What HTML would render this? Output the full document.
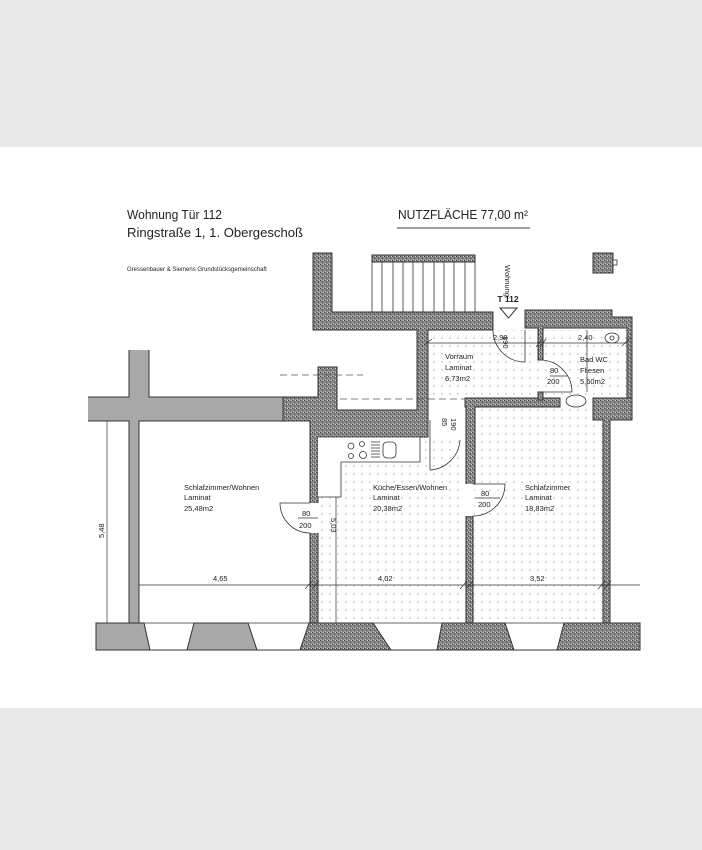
<!DOCTYPE html>
<html><head><meta charset="utf-8"><style>
html,body{margin:0;padding:0;background:#e8e8e8}
svg{display:block}
text{font-family:"Liberation Sans",sans-serif;fill:#222}
</style></head><body>
<svg width="702" height="850" viewBox="0 0 702 850" xmlns="http://www.w3.org/2000/svg">
<defs>
<pattern id="dots" width="8" height="8" patternUnits="userSpaceOnUse"><circle cx="2" cy="2" r="0.7" fill="#aaa"/></pattern>
<pattern id="tex" width="4" height="4" patternUnits="userSpaceOnUse"><rect width="4" height="4" fill="#8a8a8a"/><rect x="0" y="0" width="1" height="1" fill="#444"/><rect x="2" y="2" width="1" height="1" fill="#555"/><rect x="3" y="0" width="1" height="1" fill="#ccc"/><rect x="1" y="3" width="1" height="1" fill="#bbb"/><rect x="2" y="1" width="1" height="1" fill="#666"/></pattern>
</defs>
<rect x="0" y="0" width="702" height="850" fill="#e8e8e8"/>
<rect x="0" y="147" width="702" height="561" fill="#fff"/>

<!-- headings -->
<text x="127" y="219" font-size="12.5" textLength="95" lengthAdjust="spacingAndGlyphs">Wohnung Tür 112</text>
<text x="127" y="237" font-size="12.5" textLength="176" lengthAdjust="spacingAndGlyphs">Ringstraße 1, 1. Obergeschoß</text>
<text x="127" y="271" font-size="6">Gressenbauer &amp; Siemens Grundstücksgemeinschaft</text>
<text x="398" y="219" font-size="12.5" textLength="130" lengthAdjust="spacingAndGlyphs">NUTZFLÄCHE  77,00 m²</text>
<line x1="397" y1="228" x2="530" y2="228" stroke="#666" stroke-width="1.2"/>

<!-- dotted floors -->
<rect x="428" y="330" width="199" height="70" fill="url(#dots)"/>
<rect x="318" y="437" width="148" height="186" fill="url(#dots)"/>
<rect x="473" y="407" width="130" height="216" fill="url(#dots)"/>

<!-- gray walls left -->
<rect x="129" y="350" width="20" height="47" fill="#a8a8a8"/>
<rect x="88" y="397" width="200" height="24" fill="#a8a8a8"/>
<rect x="129" y="421" width="10" height="202" fill="#a8a8a8"/>
<path d="M129 350V397H88M149 350V397H288M88 421H129V623M139 623V421H310" fill="none" stroke="#333" stroke-width="1"/>

<!-- textured walls -->
<g fill="url(#tex)" stroke="#333" stroke-width="1">
<path d="M313 253H332V312H493V330H428V437H337V437H318V623H310V421H283V397H318V367H337V410H417V330H313Z"/>
<path d="M525 310H612V317H632V400H627V328H543V360H538V328H525Z"/>
<path d="M465 398H560V407H475V484H473V623H466V407H465Z"/>
<path d="M466 516H473V623H466Z"/>
<path d="M593 398H632V420H610V623H603V420H593Z"/>
<path d="M593 253H613V273H593Z"/>
<rect x="372" y="255" width="103" height="7"/>
<path d="M538 392H543V400H538Z"/>
</g>
<rect x="613" y="260" width="4" height="5" fill="#fff" stroke="#333" stroke-width="0.8"/>
<!-- door gaps -->
<rect x="309" y="503" width="10" height="30" fill="#fff"/>
<rect x="465" y="484" width="9" height="32" fill="#fff"/>

<!-- stairs -->
<g stroke="#333" stroke-width="0.8">
<line x1="372" y1="262" x2="372" y2="312"/><line x1="382" y1="262" x2="382" y2="312"/><line x1="393" y1="262" x2="393" y2="312"/><line x1="403" y1="262" x2="403" y2="312"/><line x1="413" y1="262" x2="413" y2="312"/><line x1="423" y1="262" x2="423" y2="312"/><line x1="434" y1="262" x2="434" y2="312"/><line x1="444" y1="262" x2="444" y2="312"/><line x1="454" y1="262" x2="454" y2="312"/><line x1="465" y1="262" x2="465" y2="312"/><line x1="475" y1="262" x2="475" y2="312"/>
</g>

<!-- entry -->
<text x="508" y="302" font-size="8.5" font-weight="bold" text-anchor="middle">T 112</text>
<text transform="translate(505,265) rotate(90)" font-size="7.5">Wohnung</text>
<path d="M500 308H517L508.5 318Z" fill="#fff" stroke="#333" stroke-width="1"/>
<path d="M525 330V362A32 32 0 0 1 493 330" fill="none" stroke="#333" stroke-width="0.8"/>

<!-- dimension lines -->
<g stroke="#333" stroke-width="0.7" fill="none">
<line x1="428" y1="343" x2="627" y2="343"/>
<line x1="107" y1="421" x2="107" y2="623"/>
<line x1="139" y1="585" x2="640" y2="585"/>
<line x1="336" y1="437" x2="336" y2="623"/>
<line x1="587" y1="330" x2="587" y2="392"/>
<path d="M424 345l8-6M536 347l6-8M540 347l6-8M622 346l8-8M305 589l7-8M312 589l7-8M460 589l7-8M466 589l7-8M598 589l7-8M604 589l7-8"/>
</g>
<g stroke="#555" stroke-width="0.8" stroke-dasharray="7,4">
<line x1="280" y1="375" x2="363" y2="375"/>
<line x1="340" y1="399" x2="465" y2="399"/>
</g>

<!-- doors -->
<g stroke="#333" stroke-width="0.8" fill="none">
<path d="M310 503H280A30 30 0 0 0 310 533"/>
<path d="M473 484H505A32 32 0 0 1 473 516"/>
<path d="M430 420V470A32 32 0 0 0 460 440"/>
<path d="M540 360A32 32 0 0 1 572 392H540"/>
<line x1="298" y1="518" x2="318" y2="518"/>
<line x1="475" y1="498" x2="500" y2="498"/>
<line x1="550" y1="376" x2="568" y2="376"/>
</g>

<!-- kitchen counter -->
<path d="M318 437H420V462H341V497H318" fill="#fff" stroke="#333" stroke-width="0.8"/>
<g fill="none" stroke="#333" stroke-width="0.8">
<circle cx="351" cy="446" r="3"/><circle cx="362" cy="444" r="2.5"/><circle cx="351" cy="456" r="2.5"/><circle cx="363" cy="455" r="3.5"/>
<path d="M371 442h9M371 445h9M371 448h9M371 451h9M371 454h9M371 457h9"/>
<rect x="383" y="442" width="13" height="16" rx="4"/>
<ellipse cx="612" cy="338" rx="7" ry="5"/><circle cx="612" cy="338" r="2"/>
<ellipse cx="576" cy="401" rx="10" ry="6"/>
</g>

<!-- bottom -->
<g stroke="#333" stroke-width="1">
<path d="M96 623H144L150 650H96Z" fill="#a8a8a8"/>
<path d="M194 623H248L257 650H187Z" fill="#a8a8a8"/>
<path d="M309 623H373L391 650H300Z" fill="url(#tex)"/>
<path d="M442 623H505L514 650H437Z" fill="url(#tex)"/>
<path d="M564 623H640V650H557Z" fill="url(#tex)"/>
<line x1="96" y1="650" x2="640" y2="650"/>
<line x1="144" y1="623" x2="640" y2="623" stroke-width="0.7"/>
</g>

<!-- labels -->
<g font-size="7.5">
<text x="184" y="490">Schlafzimmer/Wohnen</text><text x="184" y="500">Laminat</text><text x="184" y="511">25,48m2</text>
<text x="373" y="490">Küche/Essen/Wohnen</text><text x="373" y="500">Laminat</text><text x="373" y="511">20,38m2</text>
<text x="525" y="490">Schlafzimmer</text><text x="525" y="500">Laminat</text><text x="525" y="511">18,83m2</text>
<text x="445" y="359">Vorraum</text><text x="445" y="370">Laminat</text><text x="445" y="381">6,73m2</text>
<text x="580" y="362">Bad WC</text><text x="580" y="373">Fliesen</text><text x="580" y="384">5,60m2</text>
<text x="302" y="516">80</text><text x="299" y="528">200</text>
<text x="481" y="496">80</text><text x="478" y="507">200</text>
<text x="550" y="373">80</text><text x="547" y="384">200</text>
<text x="213" y="581">4,65</text><text x="378" y="581">4,02</text><text x="530" y="581">3,52</text>
<text x="493" y="340">2,98</text><text x="578" y="340">2,40</text>
<text transform="translate(104,538) rotate(-90)">5,48</text>
<text transform="translate(331,518) rotate(90)">5,03</text>
<text transform="translate(442,418) rotate(90)">85</text>
<text transform="translate(451,418) rotate(90)">190</text>
<text transform="translate(503,336) rotate(90)">190</text>
</g>
</svg>
</body></html>
